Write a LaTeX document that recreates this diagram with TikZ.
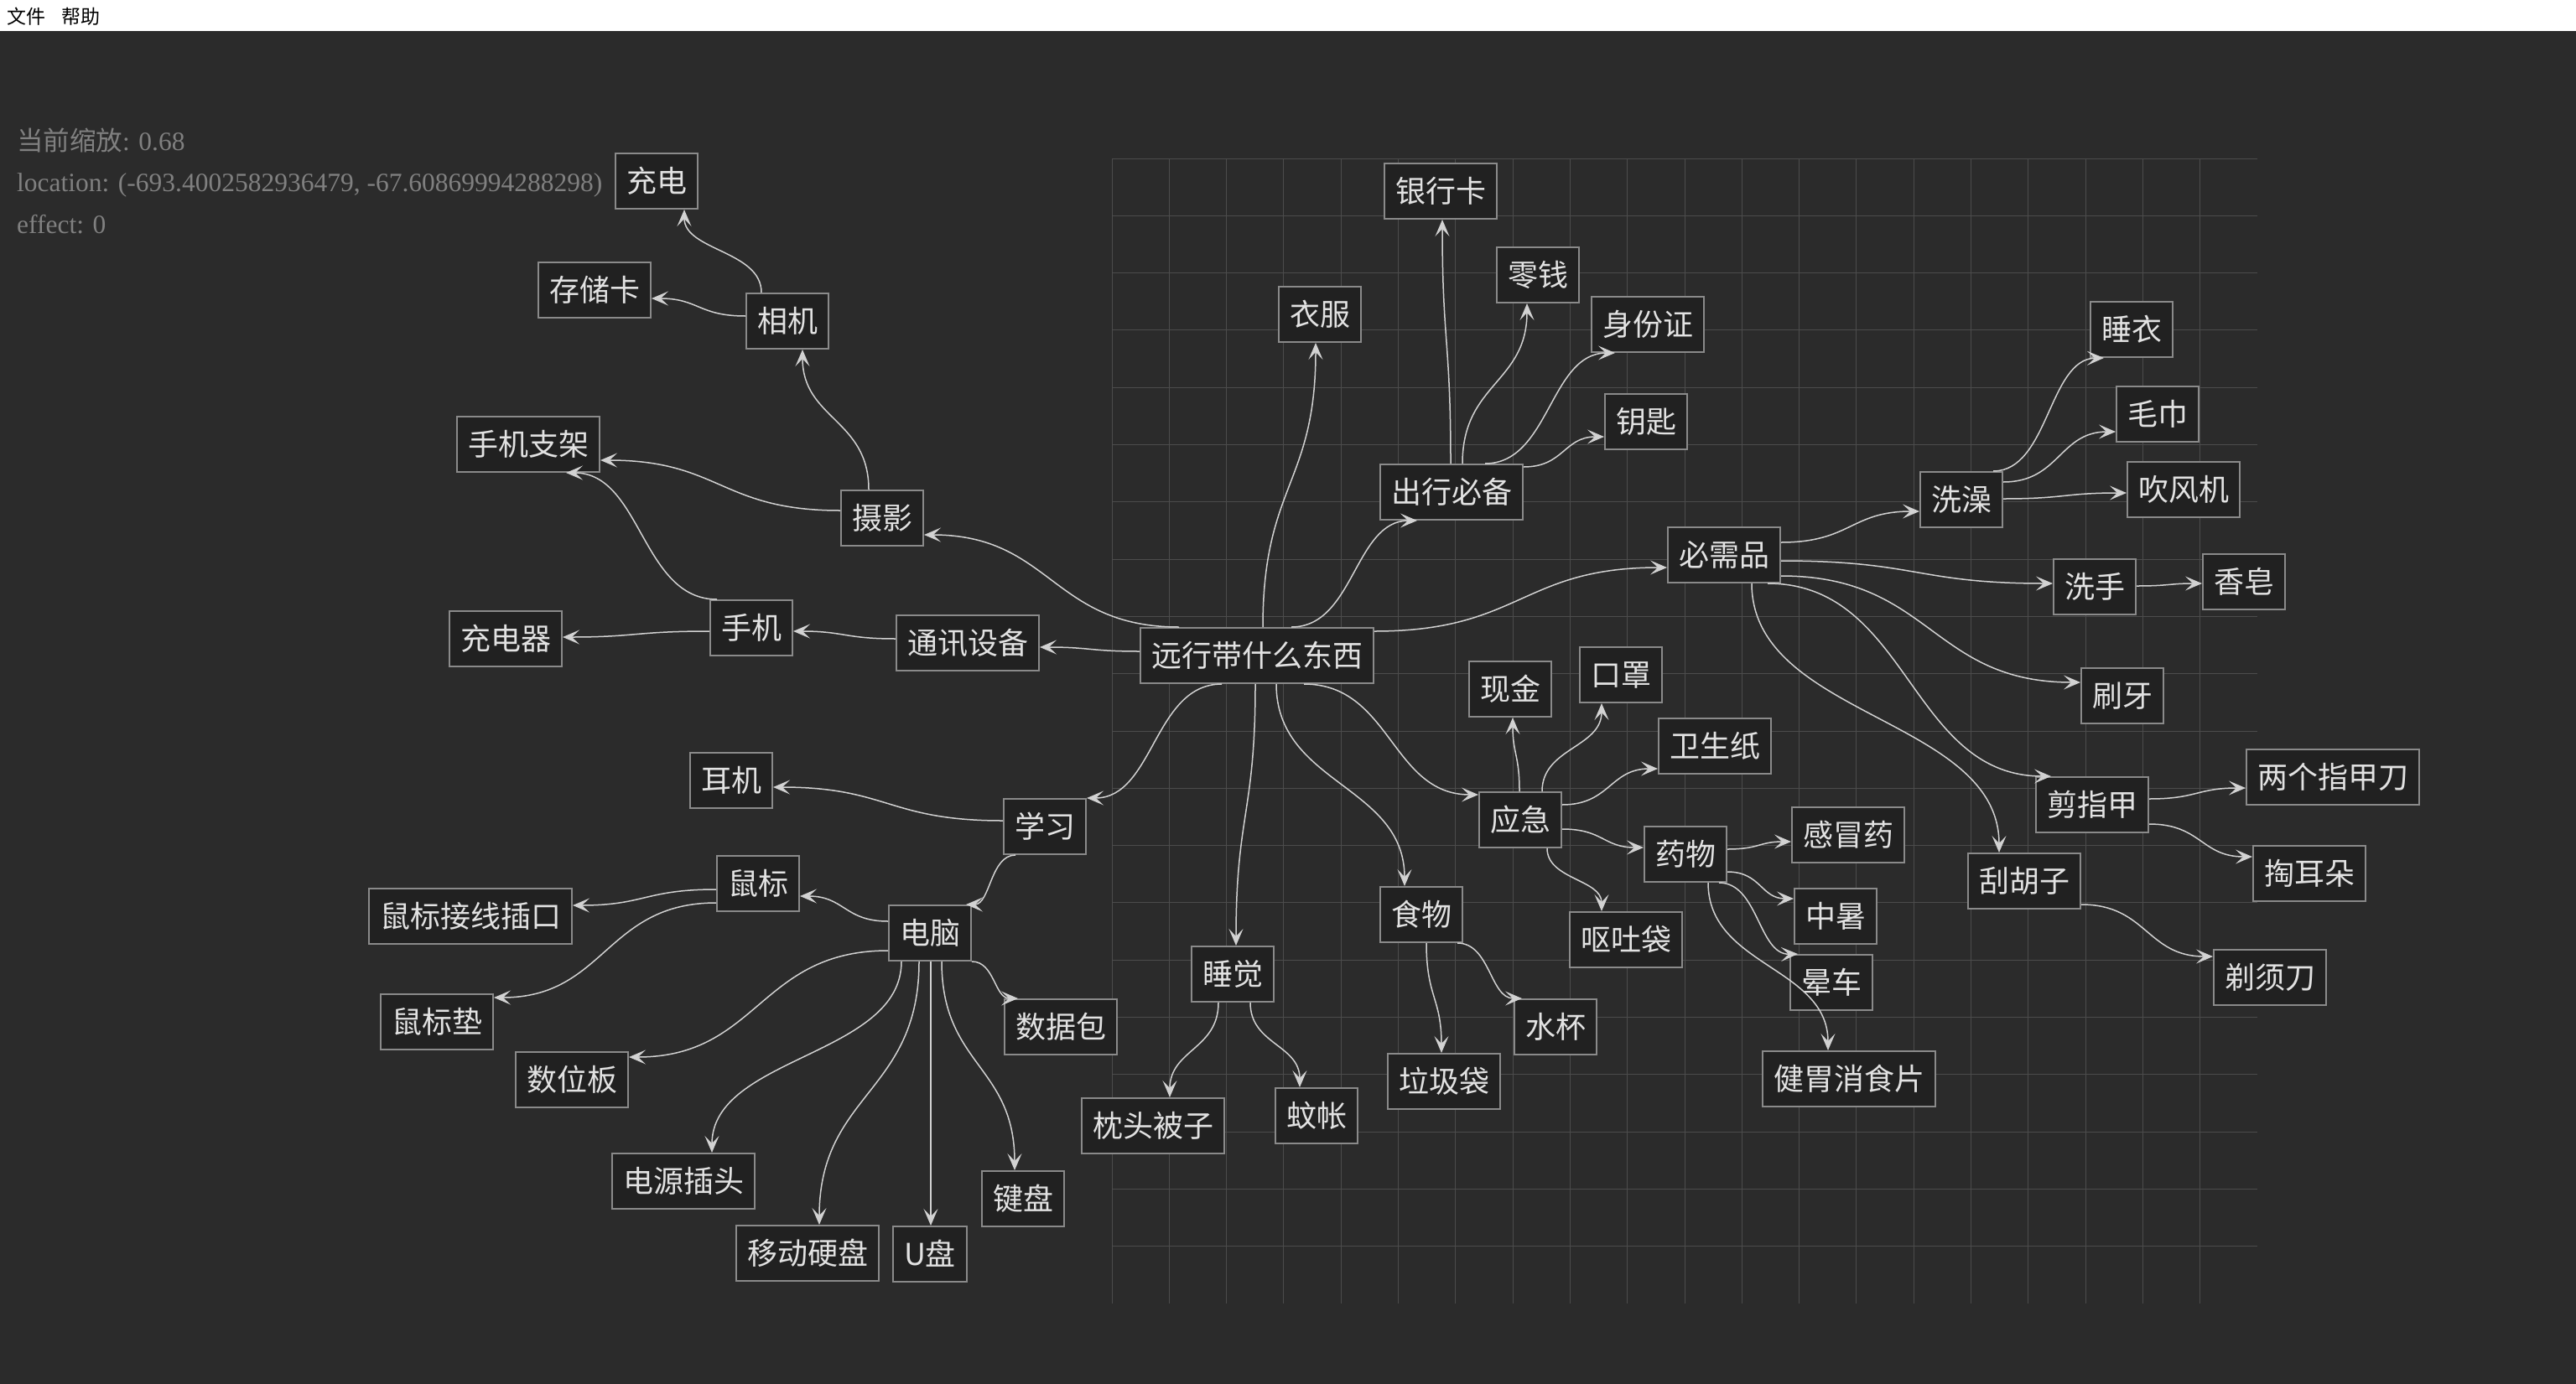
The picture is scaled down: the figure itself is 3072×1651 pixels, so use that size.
\documentclass[tikz,border=0pt]{standalone}
\usepackage{fontspec}
\setmainfont{Liberation Serif}
\newfontfamily\cjk{Noto Sans CJK SC}
\usetikzlibrary{arrows.meta}
\definecolor{bgc}{HTML}{2B2B2B}
\definecolor{nodefill}{HTML}{212121}
\definecolor{nodeborder}{HTML}{8A8A8A}
\definecolor{nodetext}{HTML}{E2E2E2}
\definecolor{edgec}{HTML}{D2D2D2}
\definecolor{gridc}{HTML}{4C4C4C}
\definecolor{infoc}{HTML}{808080}
\begin{document}
\begin{tikzpicture}[x=1pt,y=-1pt,
  box/.style={draw=nodeborder, line width=2pt, fill=nodefill, text=nodetext,
    font=\cjk\fontsize{36}{40}\selectfont, inner xsep=13pt, inner ysep=0pt,
    minimum height=66pt, text height=30pt, text depth=3pt},
  edge/.style={draw=edgec, line width=1.5pt, -{Stealth[length=20pt,width=17pt,inset=9pt]}},
  gridline/.style={draw=gridc, line width=1pt},
  info/.style={text=infoc, font=\fontsize{31.5}{38}\selectfont, anchor=base west, inner sep=0pt},
  menu/.style={text=black, font=\cjk\fontsize{23}{26}\selectfont, anchor=base west, inner sep=0pt}]
\useasboundingbox (0,0) rectangle (3072,1651);
\fill[bgc] (0,0) rectangle (3072,1651);
\fill[white] (0,0) rectangle (3072,37);
\node[menu] (menu1) at (8,28.5) {文件};
\node[menu] (menu2) at (73,28.5) {帮助};
% grid
\foreach \i in {0,...,19} {
  \draw[gridline] ({1326+\i*68.3},189) -- ++(0,1366);
  \draw[gridline] (1326,{189+\i*68.3}) -- ++(1366,0);
}
% info text
\node[info] (info1) at (20,179) {{\cjk 当前缩放}: 0.68};
\node[info] (info2) at (20,228) {location: (-693.4002582936479, -67.60869994288298)};
\node[info] (info3) at (20,278) {effect: 0};
% nodes
\node[box] (R) at (1499,782) {远行带什么东西};
\node[box] (tongxun) at (1154,767) {通讯设备};
\node[box] (shouji) at (896,749) {手机};
\node[box] (chongdianqi) at (603,762) {充电器};
\node[box] (zhijia) at (630,530) {手机支架};
\node[box] (sheying) at (1052,618) {摄影};
\node[box] (xiangji) at (939,383) {相机};
\node[box] (cunchu) at (709,346) {存储卡};
\node[box] (chongdian) at (783,216) {充电};
\node[box] (yifu) at (1574,375) {衣服};
\node[box] (yinhang) at (1718,228) {银行卡};
\node[box] (lingqian) at (1834,328) {零钱};
\node[box] (shenfen) at (1965,387) {身份证};
\node[box] (yaoshi) at (1963,503) {钥匙};
\node[box] (chuxing) at (1731,587) {出行必备};
\node[box] (bixu) at (2056,662) {必需品};
\node[box] (xizao) at (2339,596) {洗澡};
\node[box] (shuiyi) at (2542,393) {睡衣};
\node[box] (maojin) at (2573,494) {毛巾};
\node[box] (chuifeng) at (2604,584) {吹风机};
\node[box] (xishou) at (2498,700) {洗手};
\node[box] (xiangzao) at (2676,694) {香皂};
\node[box] (shuaya) at (2531,830) {刷牙};
\node[box] (jianzhi) at (2495,960) {剪指甲};
\node[box] (liangge) at (2782,927) {两个指甲刀};
\node[box] (taoer) at (2754,1042) {掏耳朵};
\node[box] (guahu) at (2414,1051) {刮胡子};
\node[box] (tixu) at (2707,1166) {剃须刀};
\node[box] (xianjin) at (1801,822) {现金};
\node[box] (kouzhao) at (1933,805) {口罩};
\node[box] (weisheng) at (2045,890) {卫生纸};
\node[box] (yingji) at (1813,978) {应急};
\node[box] (yaowu) at (2010,1019) {药物};
\node[box] (ganmao) at (2204,996) {感冒药};
\node[box] (zhongshu) at (2189,1093) {中暑};
\node[box] (yunche) at (2184,1172) {晕车};
\node[box] (jianwei) at (2205,1287) {健胃消食片};
\node[box] (outu) at (1939,1121) {呕吐袋};
\node[box] (shiwu) at (1695,1091) {食物};
\node[box] (shuibei) at (1855,1225) {水杯};
\node[box] (laji) at (1722,1290) {垃圾袋};
\node[box] (shuijiao) at (1470,1162) {睡觉};
\node[box] (zhentou) at (1375,1343) {枕头被子};
\node[box] (wenzhang) at (1570,1331) {蚊帐};
\node[box] (xuexi) at (1246,986) {学习};
\node[box] (erji) at (872,931) {耳机};
\node[box] (diannao) at (1109,1113) {电脑};
\node[box] (shubiao) at (904,1054) {鼠标};
\node[box] (jiexian) at (561,1093) {鼠标接线插口};
\node[box] (shubiaodian) at (521,1219) {鼠标垫};
\node[box] (shuwei) at (682,1288) {数位板};
\node[box] (shuju) at (1265,1225) {数据包};
\node[box] (dianyuan) at (815,1409) {电源插头};
\node[box] (yidong) at (963,1495) {移动硬盘};
\node[box] (upan) at (1109,1496) {U盘};
\node[box] (jianpan) at (1220,1430) {键盘};
% edges from root
\draw[edge] (R.west |- 0,777) .. controls (1300,777) and (1300,772) .. (tongxun.east |- 0,772);
\draw[edge] (R.north -| 1406,0) .. controls (1254,748) and (1254,638) .. (sheying.east |- 0,638);
\draw[edge] (R.north -| 1506,0) .. controls (1506,578) and (1569,578) .. (yifu.south -| 1569,0);
\draw[edge] (R.north -| 1540,0) .. controls (1615,748) and (1615,621) .. (chuxing.south -| 1690,0);
\draw[edge] (R.east |- 0,753) .. controls (1814,753) and (1814,677) .. (bixu.west |- 0,677);
\draw[edge] (R.south -| 1457,0) .. controls (1376,816) and (1376,952) .. (xuexi.north east);
\draw[edge] (R.south -| 1497,0) .. controls (1497,971) and (1474,971) .. (shuijiao.north -| 1474,0);
\draw[edge] (R.south -| 1522,0) .. controls (1522,936) and (1675,936) .. (shiwu.north -| 1675,0);
\draw[edge] (R.south -| 1555,0) .. controls (1659,816) and (1659,948) .. (yingji.west |- 0,948);
% sheying, xiangji
\draw[edge] (sheying.north -| 1036,0) .. controls (1036,500) and (957,500) .. (xiangji.south -| 957,0);
\draw[edge] (sheying.west |- 0,609) .. controls (859,609) and (859,549) .. (zhijia.east |- 0,549);
\draw[edge] (xiangji.north -| 908,0) .. controls (908,299) and (816,299) .. (chongdian.south -| 816,0);
\draw[edge] (xiangji.west |- 0,377) .. controls (833,377) and (833,356) .. (cunchu.east |- 0,356);
% tongxun, shouji
\draw[edge] (tongxun.west |- 0,762) .. controls (1007,762) and (1007,753) .. (shouji.east |- 0,753);
\draw[edge] (shouji.west |- 0,753) .. controls (758,753) and (758,760) .. (chongdianqi.east |- 0,760);
\draw[edge] (shouji.north -| 855,0) .. controls (765,715) and (765,564) .. (zhijia.south -| 675,0);
% xuexi, diannao, shubiao
\draw[edge] (xuexi.west |- 0,979) .. controls (1059,979) and (1059,939) .. (erji.east |- 0,939);
\draw[edge] (xuexi.south -| 1211,0) .. controls (1181,1020) and (1181,1079) .. (diannao.north -| 1152,0);
\draw[edge] (diannao.west |- 0,1099) .. controls (1007,1099) and (1007,1069) .. (shubiao.east |- 0,1069);
\draw[edge] (diannao.west |- 0,1134) .. controls (905,1134) and (905,1261) .. (shuwei.east |- 0,1261);
\draw[edge] (diannao.south -| 1075,0) .. controls (1075,1260) and (849,1260) .. (dianyuan.north -| 849,0);
\draw[edge] (diannao.south -| 1096,0) .. controls (1096,1304) and (977,1304) .. (yidong.north -| 977,0);
\draw[edge] (diannao.south -| 1110,0) -- (upan.north -| 1110,0);
\draw[edge] (diannao.south -| 1123,0) .. controls (1123,1271) and (1210,1271) .. (jianpan.north -| 1210,0);
\draw[edge] (diannao.south east) .. controls (1186,1147) and (1186,1191) .. (shuju.north -| 1214,0);
\draw[edge] (shubiao.west |- 0,1061) .. controls (769,1061) and (769,1080) .. (jiexian.east |- 0,1080);
\draw[edge] (shubiao.west |- 0,1077) .. controls (722,1077) and (722,1190) .. (shubiaodian.east |- 0,1190);
% shuijiao, shiwu
\draw[edge] (shuijiao.south -| 1453,0) .. controls (1453,1252) and (1395,1252) .. (zhentou.north -| 1395,0);
\draw[edge] (shuijiao.south -| 1491,0) .. controls (1491,1246) and (1550,1246) .. (wenzhang.north -| 1550,0);
\draw[edge] (shiwu.south -| 1701,0) .. controls (1701,1190) and (1719,1190) .. (laji.north -| 1719,0);
\draw[edge] (shiwu.south -| 1738,0) .. controls (1777,1125) and (1777,1191) .. (shuibei.north -| 1815,0);
% yingji, yaowu
\draw[edge] (yingji.north -| 1812,0) .. controls (1812,900) and (1804,900) .. (xianjin.south -| 1804,0);
\draw[edge] (yingji.north -| 1839,0) .. controls (1839,892) and (1910,892) .. (kouzhao.south -| 1910,0);
\draw[edge] (yingji.east |- 0,960) .. controls (1920,960) and (1920,917) .. (weisheng.west |- 0,917);
\draw[edge] (yingji.east |- 0,989) .. controls (1912,989) and (1912,1011) .. (yaowu.west |- 0,1011);
\draw[edge] (yingji.south -| 1845,0) .. controls (1845,1049) and (1910,1049) .. (outu.north -| 1910,0);
\draw[edge] (yaowu.east |- 0,1013) .. controls (2098,1013) and (2098,1004) .. (ganmao.west |- 0,1004);
\draw[edge] (yaowu.east |- 0,1040) .. controls (2100,1040) and (2100,1072) .. (zhongshu.west |- 0,1072);
\draw[edge] (yaowu.south -| 2050,0) .. controls (2097,1053) and (2097,1139) .. (yunche.north -| 2144,0);
\draw[edge] (yaowu.south -| 2037,0) .. controls (2037,1153) and (2180,1153) .. (jianwei.north -| 2180,0);
% chuxing
\draw[edge] (chuxing.north -| 1730,0) .. controls (1730,407) and (1720,407) .. (yinhang.south -| 1720,0);
\draw[edge] (chuxing.north -| 1744,0) .. controls (1744,457) and (1821,457) .. (lingqian.south -| 1821,0);
\draw[edge] (chuxing.north -| 1771,0) .. controls (1848,553) and (1848,421) .. (shenfen.south -| 1926,0);
\draw[edge] (chuxing.east |- 0,557) .. controls (1865,557) and (1865,521) .. (yaoshi.west |- 0,521);
% bixu
\draw[edge] (bixu.east |- 0,647) .. controls (2207,647) and (2207,610) .. (xizao.west |- 0,610);
\draw[edge] (bixu.east |- 0,669) .. controls (2286,669) and (2286,696) .. (xishou.west |- 0,696);
\draw[edge] (bixu.east |- 0,687) .. controls (2303,687) and (2303,814) .. (shuaya.west |- 0,814);
\draw[edge] (bixu.south -| 2108,0) .. controls (2277,696) and (2277,926) .. (jianzhi.north -| 2446,0);
\draw[edge] (bixu.south -| 2089,0) .. controls (2089,856) and (2384,856) .. (guahu.north -| 2384,0);
% xizao, xishou, jianzhi, guahu
\draw[edge] (xizao.north -| 2377,0) .. controls (2443,562) and (2443,428) .. (shuiyi.south -| 2509,0);
\draw[edge] (xizao.east |- 0,575) .. controls (2456,575) and (2456,515) .. (maojin.west |- 0,515);
\draw[edge] (xizao.east |- 0,595) .. controls (2462,595) and (2462,588) .. (chuifeng.west |- 0,588);
\draw[edge] (xishou.east |- 0,699) .. controls (2587,699) and (2587,696) .. (xiangzao.west |- 0,696);
\draw[edge] (jianzhi.east |- 0,953) .. controls (2620,953) and (2620,940) .. (liangge.west |- 0,940);
\draw[edge] (jianzhi.east |- 0,983) .. controls (2625,983) and (2625,1022) .. (taoer.west |- 0,1022);
\draw[edge] (guahu.east |- 0,1079) .. controls (2560,1079) and (2560,1141) .. (tixu.west |- 0,1141);
\end{tikzpicture}
\end{document}
